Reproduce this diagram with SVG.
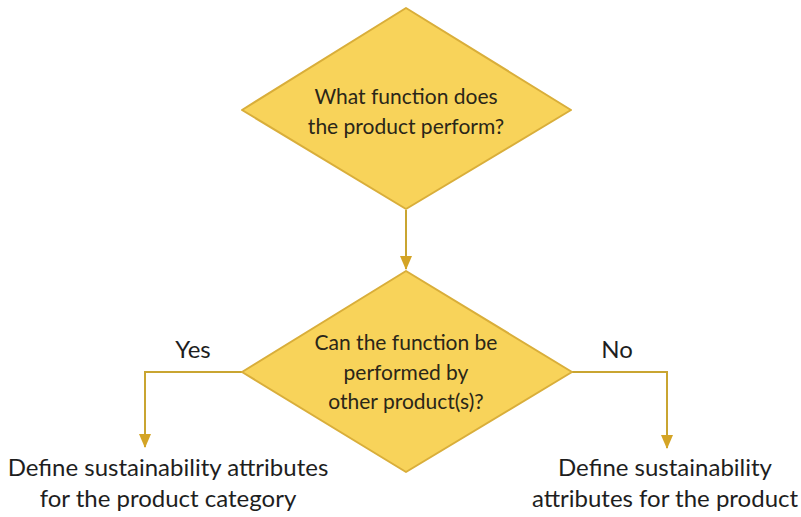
<svg xmlns="http://www.w3.org/2000/svg" width="801" height="517" viewBox="0 0 801 517">
<defs>
<style>
.dia{fill:#F8D35A;stroke:#D9AE3A;stroke-width:2;stroke-linejoin:round}
.t{font-family:Lato,"Open Sans","DejaVu Sans",sans-serif;font-size:21px;fill:#2a2618;text-anchor:middle}
.b{font-family:Lato,"Open Sans","DejaVu Sans",sans-serif;font-size:24px;fill:#1e1e1e;text-anchor:middle}
.c{fill:none;stroke:#C9A531;stroke-width:2}
</style>
<marker id="ah" markerWidth="14" markerHeight="12" refX="13" refY="6" orient="auto" markerUnits="userSpaceOnUse">
<path d="M0,0 L14,6 L0,12 Z" fill="#D4A425"/>
</marker>
</defs>
<rect width="801" height="517" fill="#fff"/>
<g id="connectors">
<path class="c" d="M406,210 V269" marker-end="url(#ah)"/>
<path class="c" d="M242,372 H145 V447" marker-end="url(#ah)"/>
<path class="c" d="M572,372 H667 V448" marker-end="url(#ah)"/>
</g>
<g id="q1">
<polygon class="dia" points="406,8 571,110 406,209 242,110"/>
<text class="t" x="406" y="104">What function does</text>
<text class="t" x="406" y="134">the product perform?</text>
</g>
<g id="q2">
<polygon class="dia" points="406,271 572,372 406,472 242,372"/>
<text class="t" x="406" y="350">Can the function be</text>
<text class="t" x="406" y="380">performed by</text>
<text class="t" x="406" y="409">other product(s)?</text>
</g>
<g id="yes-label"><text class="b" x="193" y="358">Yes</text></g>
<g id="no-label"><text class="b" x="617" y="358">No</text></g>
<g id="r1">
<text class="b" x="168" y="476">Define sustainability attributes</text>
<text class="b" x="168" y="507">for the product category</text>
</g>
<g id="r2">
<text class="b" x="665" y="476">Define sustainability</text>
<text class="b" x="665" y="507">attributes for the product</text>
</g>
</svg>
